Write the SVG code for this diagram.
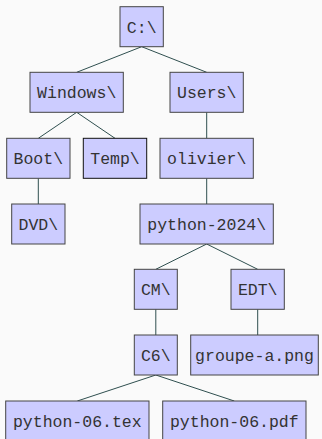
<svg xmlns="http://www.w3.org/2000/svg" width="322" height="439" viewBox="0 0 322 439">
<style>
.n rect{fill:#ccccff;stroke:#444;stroke-width:1}
.n text{font-family:"Liberation Mono","DejaVu Sans Mono",monospace;font-size:16.5px;fill:#333;text-anchor:middle}
#edges line{stroke:#2f4f4f;stroke-width:1}
</style>
<rect x="0" y="0" width="322" height="439" fill="#fafafa"/>
<g id="edges">
<line x1="141.7" y1="46.7" x2="76.7" y2="72.3"/>
<line x1="141.7" y1="46.7" x2="206.7" y2="72.3"/>
<line x1="76.7" y1="112.3" x2="38.3" y2="138.3"/>
<line x1="76.7" y1="112.3" x2="115" y2="138.3"/>
<line x1="206.7" y1="112.3" x2="206.7" y2="138.3"/>
<line x1="38.3" y1="178.3" x2="38.3" y2="204"/>
<line x1="206.7" y1="178.3" x2="206.7" y2="204"/>
<line x1="206.7" y1="244" x2="155.8" y2="269.3"/>
<line x1="206.7" y1="244" x2="257.7" y2="269.3"/>
<line x1="155.8" y1="309.3" x2="155.8" y2="335"/>
<line x1="257.7" y1="309.3" x2="257.7" y2="335"/>
<line x1="155.8" y1="375" x2="77.3" y2="401"/>
<line x1="155.8" y1="375" x2="234.3" y2="401"/>
</g>
<g id="c" class="n"><rect x="120" y="6.7" width="43.3" height="40"/><text x="141.7" y="32.5">C:\</text></g>
<g id="windows" class="n"><rect x="30" y="72.3" width="93.3" height="40"/><text x="76.7" y="98.1">Windows\</text></g>
<g id="users" class="n"><rect x="170" y="72.3" width="73.3" height="40"/><text x="206.7" y="98.1">Users\</text></g>
<g id="boot" class="n"><rect x="6.7" y="138.3" width="63.3" height="40"/><text x="38.3" y="164.1">Boot\</text></g>
<g id="temp" class="n"><rect x="83.3" y="138.3" width="63.4" height="40" style="stroke:#111"/><text x="115" y="164.1">Temp\</text></g>
<g id="olivier" class="n"><rect x="160" y="138.3" width="93.3" height="40"/><text x="206.7" y="164.1">olivier\</text></g>
<g id="dvd" class="n"><rect x="11.7" y="204" width="53.3" height="40"/><text x="38.3" y="229.8">DVD\</text></g>
<g id="python2024" class="n"><rect x="140" y="204" width="133.3" height="40"/><text x="206.7" y="229.8">python-2024\</text></g>
<g id="cm" class="n"><rect x="134.3" y="269.3" width="43" height="40"/><text x="155.8" y="295.1">CM\</text></g>
<g id="edt" class="n"><rect x="231" y="269.3" width="53.3" height="40"/><text x="257.7" y="295.1">EDT\</text></g>
<g id="c6" class="n"><rect x="134.3" y="335" width="43" height="40"/><text x="155.8" y="360.8">C6\</text></g>
<g id="groupe" class="n"><rect x="190.7" y="335" width="127.6" height="40"/><text x="254.5" y="360.8">groupe-a.png</text></g>
<g id="tex" class="n"><rect x="5.7" y="401" width="143.3" height="40"/><text x="77.3" y="426.8">python-06.tex</text></g>
<g id="pdf" class="n"><rect x="162.7" y="401" width="143.3" height="40"/><text x="234.3" y="426.8">python-06.pdf</text></g>
</svg>
